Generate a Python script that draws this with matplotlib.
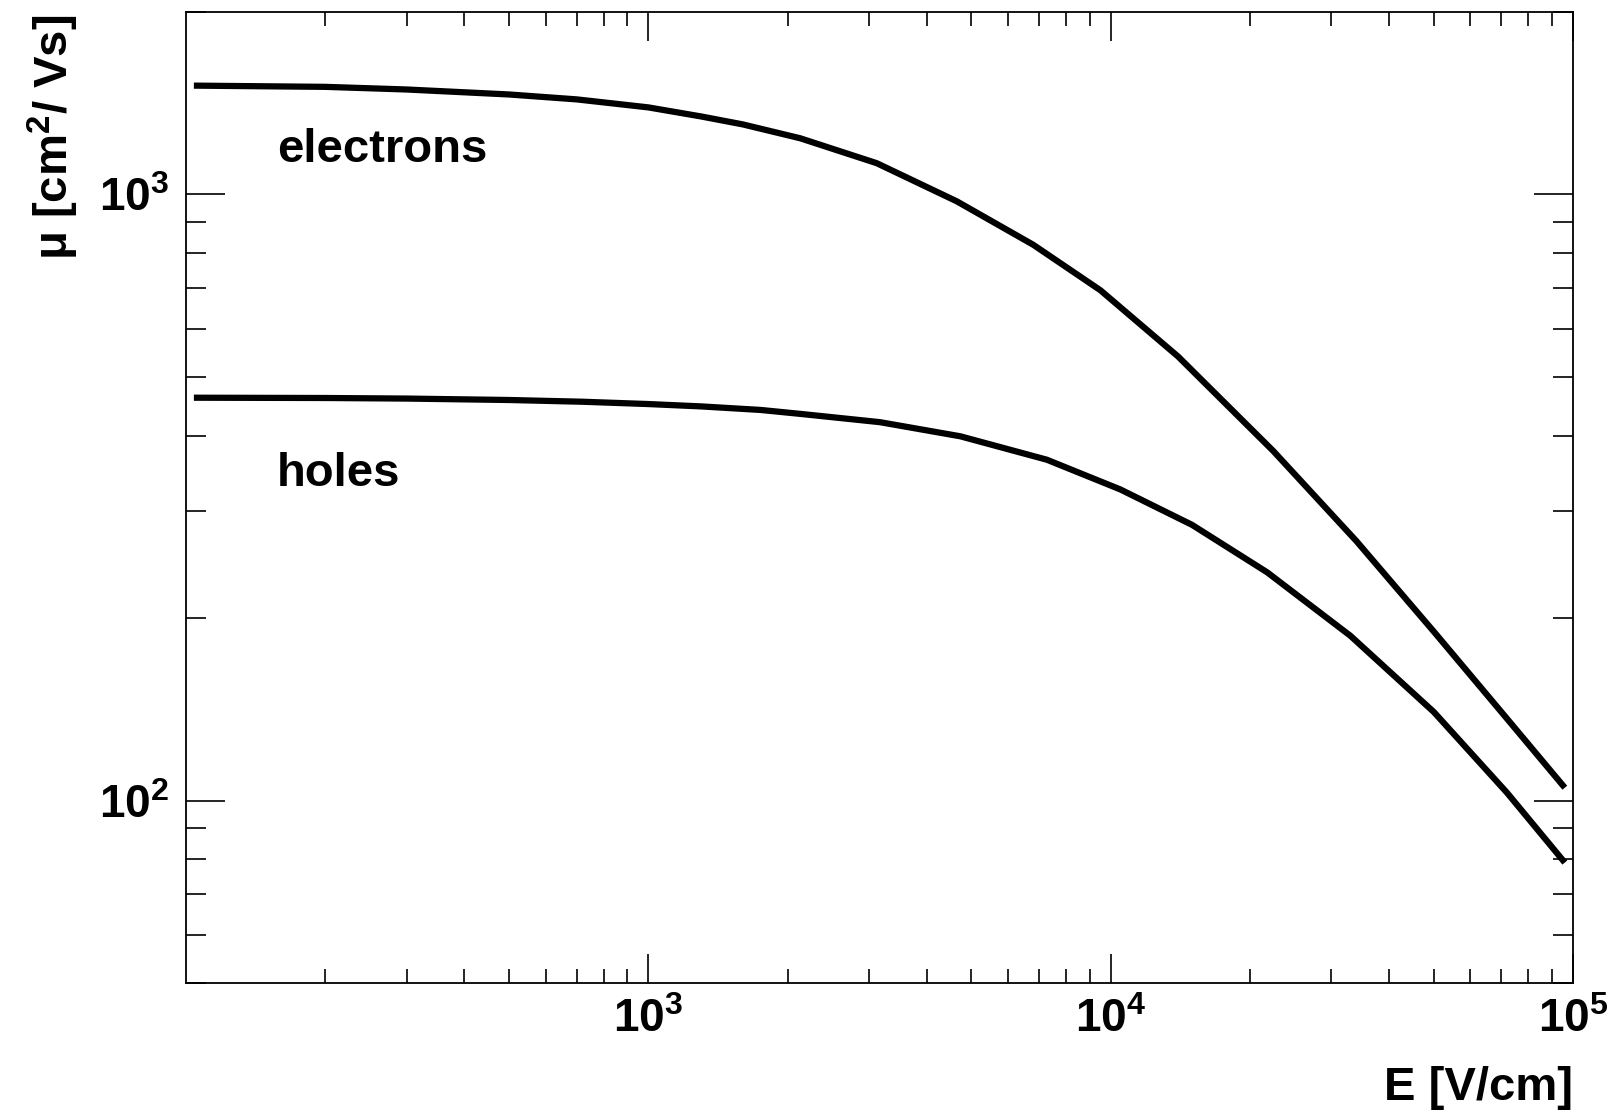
import matplotlib
matplotlib.use("Agg")
import matplotlib.pyplot as plt
from matplotlib.ticker import FixedLocator, LogLocator, NullFormatter

# mobility vs field
e_field_el = [104, 200, 300, 500, 700, 1000, 1300, 1600, 2130, 3120, 4650,
              6800, 9500, 14000, 22500, 34000, 50000, 70000, 96000]
mu_el = [1512, 1505, 1490, 1462, 1435, 1392, 1345, 1305, 1238, 1126, 974,
         826, 695, 540, 377, 268, 190, 140, 105]

e_field_h = [104, 200, 300, 500, 720, 1000, 1300, 1750, 2130, 3170, 4730,
             7280, 10500, 15000, 21800, 33000, 50000, 72000, 96000]
mu_h = [462, 461.5, 460.5, 458, 455, 451, 447, 441, 434.5, 421, 399,
        365, 326, 285, 238, 187, 140, 103, 79]

x_ticks = [1e3, 1e4, 1e5]
x_ticklabels = ["$10^{3}$", "$10^{4}$", "$10^{5}$"]
y_ticks = [1e2, 1e3]
y_ticklabels = ["$10^{2}$", "$10^{3}$"]

plt.rcParams["font.family"] = ["Liberation Sans", "DejaVu Sans"]
plt.rcParams["font.weight"] = "bold"
plt.rcParams["mathtext.fontset"] = "custom"
plt.rcParams["mathtext.rm"] = "Liberation Sans:bold"
plt.rcParams["mathtext.it"] = "Liberation Sans:bold"
plt.rcParams["mathtext.bf"] = "Liberation Sans:bold"

W, H = 1612, 1113
fig = plt.figure(figsize=(W / 100, H / 100), dpi=100)
ax = fig.add_axes([186 / W, 1 - 983 / H, (1573 - 186) / W, (983 - 12) / H])

ax.plot(e_field_el, mu_el, color="black", lw=4.5, solid_capstyle="butt")
ax.plot(e_field_h, mu_h, color="black", lw=4.5, solid_capstyle="butt")

ax.set_xscale("log")
ax.set_yscale("log")
ax.set_xlim(100, 1e5)
ax.set_ylim(50, 2000)

ax.xaxis.set_major_locator(FixedLocator(x_ticks))
ax.set_xticklabels(x_ticklabels)
ax.xaxis.set_minor_locator(LogLocator(base=10, subs=range(2, 10)))
ax.xaxis.set_minor_formatter(NullFormatter())
ax.yaxis.set_major_locator(FixedLocator(y_ticks))
ax.set_yticklabels(y_ticklabels)
ax.yaxis.set_minor_locator(LogLocator(base=10, subs=range(2, 10)))
ax.yaxis.set_minor_formatter(NullFormatter())

ax.tick_params(axis="x", which="both", direction="in", top=True, width=1.2,
               labelsize=33, pad=11)
ax.tick_params(axis="x", which="major", length=21)
ax.tick_params(axis="x", which="minor", length=10)
ax.tick_params(axis="y", which="both", direction="in", right=True, width=1.2,
               labelsize=33, pad=12)
ax.tick_params(axis="y", which="major", length=28)
ax.tick_params(axis="y", which="minor", length=14.5)
for s in ax.spines.values():
    s.set_linewidth(1.3)

ax.text(277 / W, 1 - 162 / H, "electrons", transform=fig.transFigure,
        fontsize=34, fontweight="bold", va="baseline", ha="left")
ax.text(277 / W, 1 - 486 / H, "holes", transform=fig.transFigure,
        fontsize=34, fontweight="bold", va="baseline", ha="left")

fig.text(1573 / W, 1 - 1100 / H, "E [V/cm]", fontsize=34, fontweight="bold",
         ha="right", va="baseline")
fig.text(68 / W, 1 - 15 / H, "μ [cm$^{2}$/ Vs]", fontsize=34, fontweight="bold",
         rotation=90, rotation_mode="anchor", ha="right", va="baseline")

fig.savefig("out.png", dpi=100)
